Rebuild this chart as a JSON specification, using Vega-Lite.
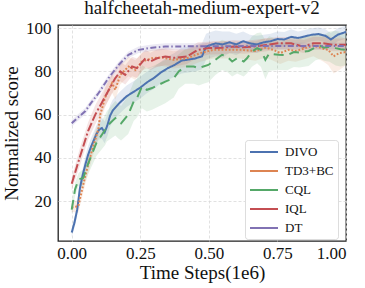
{
"$schema":"https://vega.github.io/schema/vega-lite/v6.json",
"width":288,"height":216,
"autosize":{"type":"none"},
"padding":{"left":58,"top":25,"right":19,"bottom":47},
"background":"white",
"title":{"text":"halfcheetah-medium-expert-v2","font":"Liberation Serif","fontSize":19,"fontWeight":"normal","color":"#111","offset":1},
"config":{
 "font":"Liberation Serif",
 "view":{"stroke":"#222","strokeWidth":1.3},
 "axis":{"grid":true,"gridColor":"#d9d9d9","gridDash":[3,2],"gridWidth":0.8,"domain":false,"ticks":false,"labelFont":"Liberation Serif","labelFontSize":17,"labelColor":"#111","titleFont":"Liberation Serif","titleFontSize":19,"titleFontWeight":"normal","titleColor":"#111"},
 "legend":{"labelFont":"Liberation Serif","labelFontSize":13,"labelColor":"#111"}
},
"data":{"values":[
{"s":"DIVO","x":0,"y":5.4,"lo":3.4,"hi":7.4},
{"s":"DIVO","x":0.01,"y":10,"lo":7.5,"hi":12.5},
{"s":"DIVO","x":0.02,"y":16,"lo":13,"hi":19},
{"s":"DIVO","x":0.03,"y":26,"lo":23,"hi":29},
{"s":"DIVO","x":0.04,"y":32,"lo":29,"hi":35},
{"s":"DIVO","x":0.05,"y":37,"lo":33,"hi":41},
{"s":"DIVO","x":0.06,"y":41.5,"lo":37.5,"hi":45.5},
{"s":"DIVO","x":0.07,"y":45,"lo":41,"hi":49},
{"s":"DIVO","x":0.08,"y":48,"lo":44,"hi":52},
{"s":"DIVO","x":0.09,"y":51,"lo":47,"hi":55},
{"s":"DIVO","x":0.1,"y":53,"lo":48.5,"hi":57.5},
{"s":"DIVO","x":0.11,"y":53.8,"lo":48.8,"hi":58.8},
{"s":"DIVO","x":0.12,"y":51.8,"lo":46.8,"hi":56.8},
{"s":"DIVO","x":0.13,"y":55,"lo":50,"hi":60},
{"s":"DIVO","x":0.14,"y":59.5,"lo":54.5,"hi":64.5},
{"s":"DIVO","x":0.15,"y":62,"lo":57,"hi":67},
{"s":"DIVO","x":0.175,"y":65.5,"lo":60.5,"hi":70.5},
{"s":"DIVO","x":0.2,"y":68.5,"lo":63.5,"hi":73.5},
{"s":"DIVO","x":0.225,"y":70.5,"lo":65.5,"hi":75.5},
{"s":"DIVO","x":0.25,"y":72.5,"lo":67.5,"hi":77.5},
{"s":"DIVO","x":0.275,"y":75,"lo":70,"hi":80},
{"s":"DIVO","x":0.3,"y":77,"lo":72,"hi":82},
{"s":"DIVO","x":0.325,"y":79.5,"lo":74.5,"hi":84.5},
{"s":"DIVO","x":0.35,"y":81.5,"lo":76,"hi":87},
{"s":"DIVO","x":0.375,"y":83,"lo":77.5,"hi":88.5},
{"s":"DIVO","x":0.4,"y":85,"lo":79,"hi":91},
{"s":"DIVO","x":0.425,"y":85.5,"lo":79.5,"hi":91.5},
{"s":"DIVO","x":0.45,"y":86,"lo":80,"hi":92},
{"s":"DIVO","x":0.475,"y":87,"lo":81,"hi":93},
{"s":"DIVO","x":0.49,"y":91.5,"lo":85.5,"hi":97.5},
{"s":"DIVO","x":0.5,"y":92,"lo":86,"hi":98},
{"s":"DIVO","x":0.525,"y":93,"lo":87,"hi":99},
{"s":"DIVO","x":0.55,"y":92.5,"lo":86.5,"hi":98.5},
{"s":"DIVO","x":0.575,"y":93.5,"lo":88.5,"hi":98.5},
{"s":"DIVO","x":0.6,"y":92.5,"lo":87.5,"hi":97.5},
{"s":"DIVO","x":0.625,"y":94,"lo":89.5,"hi":98.5},
{"s":"DIVO","x":0.65,"y":93,"lo":89,"hi":97},
{"s":"DIVO","x":0.675,"y":92.5,"lo":88.5,"hi":96.5},
{"s":"DIVO","x":0.7,"y":93.5,"lo":90,"hi":97},
{"s":"DIVO","x":0.725,"y":94,"lo":90.5,"hi":97.5},
{"s":"DIVO","x":0.75,"y":95,"lo":91.5,"hi":98.5},
{"s":"DIVO","x":0.775,"y":94.8,"lo":91.3,"hi":98.3},
{"s":"DIVO","x":0.8,"y":96,"lo":92.5,"hi":99.5},
{"s":"DIVO","x":0.825,"y":95.5,"lo":92.5,"hi":98.5},
{"s":"DIVO","x":0.85,"y":96.2,"lo":93.2,"hi":99.2},
{"s":"DIVO","x":0.875,"y":97,"lo":94,"hi":100},
{"s":"DIVO","x":0.9,"y":97.3,"lo":94.3,"hi":100.3},
{"s":"DIVO","x":0.925,"y":96.5,"lo":93.5,"hi":99.5},
{"s":"DIVO","x":0.945,"y":94.8,"lo":91.8,"hi":97.8},
{"s":"DIVO","x":0.97,"y":97,"lo":94,"hi":100},
{"s":"DIVO","x":1.0,"y":98.3,"lo":95.3,"hi":101.3},

{"s":"TD3+BC","x":0,"y":17,"lo":15,"hi":19},
{"s":"TD3+BC","x":0.024,"y":17.6,"lo":14.6,"hi":20.6},
{"s":"TD3+BC","x":0.049,"y":31.5,"lo":27.5,"hi":35.5},
{"s":"TD3+BC","x":0.078,"y":45.3,"lo":41.3,"hi":49.3},
{"s":"TD3+BC","x":0.097,"y":53,"lo":49,"hi":57},
{"s":"TD3+BC","x":0.104,"y":60,"lo":56,"hi":64},
{"s":"TD3+BC","x":0.122,"y":68,"lo":63.5,"hi":72.5},
{"s":"TD3+BC","x":0.147,"y":74.6,"lo":70.1,"hi":79.1},
{"s":"TD3+BC","x":0.159,"y":71.5,"lo":67,"hi":76},
{"s":"TD3+BC","x":0.177,"y":78.4,"lo":73.9,"hi":82.9},
{"s":"TD3+BC","x":0.207,"y":82.3,"lo":77.8,"hi":86.8},
{"s":"TD3+BC","x":0.232,"y":80.7,"lo":76.2,"hi":85.2},
{"s":"TD3+BC","x":0.256,"y":84.6,"lo":80.6,"hi":88.6},
{"s":"TD3+BC","x":0.293,"y":86.1,"lo":82.1,"hi":90.1},
{"s":"TD3+BC","x":0.329,"y":86.5,"lo":82.5,"hi":90.5},
{"s":"TD3+BC","x":0.37,"y":85.4,"lo":81.4,"hi":89.4},
{"s":"TD3+BC","x":0.42,"y":86.1,"lo":82.1,"hi":90.1},
{"s":"TD3+BC","x":0.469,"y":88.5,"lo":84.5,"hi":92.5},
{"s":"TD3+BC","x":0.516,"y":90,"lo":86,"hi":94},
{"s":"TD3+BC","x":0.567,"y":90,"lo":86,"hi":94},
{"s":"TD3+BC","x":0.615,"y":90,"lo":86,"hi":94},
{"s":"TD3+BC","x":0.67,"y":89.5,"lo":85,"hi":94},
{"s":"TD3+BC","x":0.706,"y":91,"lo":86.5,"hi":95.5},
{"s":"TD3+BC","x":0.735,"y":90,"lo":85,"hi":95},
{"s":"TD3+BC","x":0.76,"y":88.5,"lo":83.5,"hi":93.5},
{"s":"TD3+BC","x":0.79,"y":90,"lo":85,"hi":95},
{"s":"TD3+BC","x":0.816,"y":89.5,"lo":84.5,"hi":94.5},
{"s":"TD3+BC","x":0.845,"y":90.5,"lo":85.5,"hi":95.5},
{"s":"TD3+BC","x":0.881,"y":92,"lo":87,"hi":97},
{"s":"TD3+BC","x":0.918,"y":90.5,"lo":84.5,"hi":96.5},
{"s":"TD3+BC","x":0.935,"y":90,"lo":83,"hi":97},
{"s":"TD3+BC","x":0.955,"y":87,"lo":79,"hi":95},
{"s":"TD3+BC","x":0.975,"y":88.5,"lo":80.5,"hi":96.5},
{"s":"TD3+BC","x":1.0,"y":89,"lo":83,"hi":95},

{"s":"CQL","x":0,"y":16,"lo":14,"hi":18},
{"s":"CQL","x":0.012,"y":25.3,"lo":22.3,"hi":28.3},
{"s":"CQL","x":0.025,"y":30,"lo":27,"hi":33},
{"s":"CQL","x":0.042,"y":30.7,"lo":26.7,"hi":34.7},
{"s":"CQL","x":0.061,"y":37.7,"lo":32.7,"hi":42.7},
{"s":"CQL","x":0.09,"y":46.9,"lo":40.9,"hi":52.9},
{"s":"CQL","x":0.122,"y":53,"lo":46,"hi":60},
{"s":"CQL","x":0.128,"y":54.6,"lo":47.6,"hi":61.6},
{"s":"CQL","x":0.159,"y":58.4,"lo":50.4,"hi":66.4},
{"s":"CQL","x":0.17,"y":56.9,"lo":48.9,"hi":64.9},
{"s":"CQL","x":0.18,"y":56,"lo":48,"hi":64},
{"s":"CQL","x":0.206,"y":60,"lo":51,"hi":69},
{"s":"CQL","x":0.226,"y":66.1,"lo":57.1,"hi":75.1},
{"s":"CQL","x":0.238,"y":67.7,"lo":58.7,"hi":76.7},
{"s":"CQL","x":0.256,"y":73,"lo":63,"hi":83},
{"s":"CQL","x":0.274,"y":71.5,"lo":61.5,"hi":81.5},
{"s":"CQL","x":0.293,"y":72.3,"lo":62.3,"hi":82.3},
{"s":"CQL","x":0.317,"y":73.8,"lo":63.8,"hi":83.8},
{"s":"CQL","x":0.341,"y":75.3,"lo":65.3,"hi":85.3},
{"s":"CQL","x":0.372,"y":76.9,"lo":67.9,"hi":85.9},
{"s":"CQL","x":0.39,"y":80,"lo":72,"hi":88},
{"s":"CQL","x":0.414,"y":82.3,"lo":74.3,"hi":90.3},
{"s":"CQL","x":0.445,"y":82.3,"lo":74.3,"hi":90.3},
{"s":"CQL","x":0.463,"y":81.5,"lo":73.5,"hi":89.5},
{"s":"CQL","x":0.48,"y":82.3,"lo":74.3,"hi":90.3},
{"s":"CQL","x":0.498,"y":83,"lo":75,"hi":91},
{"s":"CQL","x":0.524,"y":85.4,"lo":78.4,"hi":92.4},
{"s":"CQL","x":0.548,"y":87.7,"lo":80.7,"hi":94.7},
{"s":"CQL","x":0.566,"y":86.9,"lo":79.9,"hi":93.9},
{"s":"CQL","x":0.585,"y":84.6,"lo":77.6,"hi":91.6},
{"s":"CQL","x":0.603,"y":86.1,"lo":79.1,"hi":93.1},
{"s":"CQL","x":0.627,"y":84.6,"lo":77.6,"hi":91.6},
{"s":"CQL","x":0.639,"y":86.1,"lo":79.1,"hi":93.1},
{"s":"CQL","x":0.657,"y":89.2,"lo":82.2,"hi":96.2},
{"s":"CQL","x":0.676,"y":90.8,"lo":83.8,"hi":97.8},
{"s":"CQL","x":0.69,"y":90,"lo":82,"hi":98},
{"s":"CQL","x":0.706,"y":85.4,"lo":76.4,"hi":94.4},
{"s":"CQL","x":0.72,"y":88.3,"lo":80.3,"hi":96.3},
{"s":"CQL","x":0.754,"y":87.7,"lo":80.7,"hi":94.7},
{"s":"CQL","x":0.786,"y":87.5,"lo":80.5,"hi":94.5},
{"s":"CQL","x":0.81,"y":89,"lo":82,"hi":96},
{"s":"CQL","x":0.83,"y":88.8,"lo":81.8,"hi":95.8},
{"s":"CQL","x":0.864,"y":89.5,"lo":82.5,"hi":96.5},
{"s":"CQL","x":0.889,"y":91.2,"lo":85.2,"hi":97.2},
{"s":"CQL","x":0.907,"y":91.8,"lo":85.8,"hi":97.8},
{"s":"CQL","x":0.92,"y":91,"lo":85,"hi":97},
{"s":"CQL","x":0.94,"y":91.5,"lo":84.5,"hi":98.5},
{"s":"CQL","x":0.962,"y":90.8,"lo":82.8,"hi":98.8},
{"s":"CQL","x":0.98,"y":90.3,"lo":82.3,"hi":98.3},
{"s":"CQL","x":1.0,"y":90,"lo":83,"hi":97},

{"s":"IQL","x":0,"y":28,"lo":25,"hi":31},
{"s":"IQL","x":0.03,"y":40.5,"lo":36.5,"hi":44.5},
{"s":"IQL","x":0.06,"y":52.5,"lo":48.5,"hi":56.5},
{"s":"IQL","x":0.086,"y":60,"lo":55.5,"hi":64.5},
{"s":"IQL","x":0.122,"y":68.4,"lo":63.9,"hi":72.9},
{"s":"IQL","x":0.159,"y":76.9,"lo":72.4,"hi":81.4},
{"s":"IQL","x":0.177,"y":80,"lo":75.5,"hi":84.5},
{"s":"IQL","x":0.195,"y":78.4,"lo":73.9,"hi":82.9},
{"s":"IQL","x":0.22,"y":82.3,"lo":77.8,"hi":86.8},
{"s":"IQL","x":0.238,"y":81.5,"lo":77,"hi":86},
{"s":"IQL","x":0.269,"y":86.1,"lo":82.1,"hi":90.1},
{"s":"IQL","x":0.286,"y":84.6,"lo":80.6,"hi":88.6},
{"s":"IQL","x":0.311,"y":86.1,"lo":82.1,"hi":90.1},
{"s":"IQL","x":0.341,"y":86.9,"lo":82.9,"hi":90.9},
{"s":"IQL","x":0.375,"y":86.3,"lo":82.3,"hi":90.3},
{"s":"IQL","x":0.42,"y":86.9,"lo":83.4,"hi":90.4},
{"s":"IQL","x":0.46,"y":90,"lo":86.5,"hi":93.5},
{"s":"IQL","x":0.5,"y":90.8,"lo":87.8,"hi":93.8},
{"s":"IQL","x":0.55,"y":91,"lo":88,"hi":94},
{"s":"IQL","x":0.59,"y":91.5,"lo":88.5,"hi":94.5},
{"s":"IQL","x":0.625,"y":91.2,"lo":88.2,"hi":94.2},
{"s":"IQL","x":0.66,"y":91.5,"lo":88.5,"hi":94.5},
{"s":"IQL","x":0.71,"y":92.3,"lo":89.3,"hi":95.3},
{"s":"IQL","x":0.75,"y":93,"lo":90,"hi":96},
{"s":"IQL","x":0.8,"y":93,"lo":90,"hi":96},
{"s":"IQL","x":0.845,"y":91.5,"lo":88.5,"hi":94.5},
{"s":"IQL","x":0.88,"y":93,"lo":90,"hi":96},
{"s":"IQL","x":0.918,"y":93,"lo":90,"hi":96},
{"s":"IQL","x":0.955,"y":92.3,"lo":89.3,"hi":95.3},
{"s":"IQL","x":1.0,"y":92.3,"lo":89.3,"hi":95.3},

{"s":"DT","x":0,"y":56,"lo":54.5,"hi":57.5},
{"s":"DT","x":0.025,"y":58.9,"lo":57.4,"hi":60.4},
{"s":"DT","x":0.05,"y":61.7,"lo":60.2,"hi":63.2},
{"s":"DT","x":0.068,"y":65,"lo":63.5,"hi":66.5},
{"s":"DT","x":0.098,"y":70,"lo":68.5,"hi":71.5},
{"s":"DT","x":0.134,"y":76.9,"lo":75.4,"hi":78.4},
{"s":"DT","x":0.171,"y":83,"lo":81.5,"hi":84.5},
{"s":"DT","x":0.207,"y":87.7,"lo":86.2,"hi":89.2},
{"s":"DT","x":0.244,"y":90,"lo":88.5,"hi":91.5},
{"s":"DT","x":0.293,"y":91,"lo":89.5,"hi":92.5},
{"s":"DT","x":0.341,"y":91.5,"lo":90,"hi":93},
{"s":"DT","x":0.4,"y":91.6,"lo":90.1,"hi":93.1},
{"s":"DT","x":0.5,"y":91.7,"lo":90.2,"hi":93.2},
{"s":"DT","x":0.6,"y":91.7,"lo":90.2,"hi":93.2},
{"s":"DT","x":0.7,"y":91.8,"lo":90.3,"hi":93.3},
{"s":"DT","x":0.8,"y":91.8,"lo":90.3,"hi":93.3},
{"s":"DT","x":0.9,"y":91.8,"lo":90.3,"hi":93.3},
{"s":"DT","x":1.0,"y":91.8,"lo":90.3,"hi":93.3}
]},
"encoding":{
 "x":{"field":"x","type":"quantitative","scale":{"domain":[-0.05,1.0],"nice":false,"zero":false},
  "axis":{"values":[0,0.25,0.5,0.75,1],"format":".2f","title":"Time Steps(1e6)","labelPadding":4,"titlePadding":2}}
},
"layer":[
 {"mark":{"type":"area","opacity":0.15},
  "encoding":{
   "y":{"field":"lo","type":"quantitative","scale":{"domain":[1.5,101.5],"nice":false,"zero":false},
     "axis":{"values":[20,40,60,80,100],"title":"Normalized score","labelPadding":7,"titlePadding":4}},
   "y2":{"field":"hi"},
   "color":{"field":"s","type":"nominal","scale":{"domain":["DIVO","TD3+BC","CQL","IQL","DT"],"range":["#4c72b0","#dd8452","#55a868","#c44e52","#8172b3"]},"legend":null}
  }},
 {"mark":{"type":"line","strokeWidth":2},
  "encoding":{
   "y":{"field":"y","type":"quantitative","scale":{"domain":[1.5,101.5],"nice":false,"zero":false},
     "axis":{"values":[20,40,60,80,100],"title":"Normalized score","labelPadding":7,"titlePadding":4}},
   "color":{"field":"s","type":"nominal","scale":{"domain":["DIVO","TD3+BC","CQL","IQL","DT"],"range":["#4c72b0","#dd8452","#55a868","#c44e52","#8172b3"]},
     "legend":{"title":null,"orient":"none","legendX":187,"legendY":115,"symbolType":"M-1,0H3","symbolSize":196,"symbolStrokeWidth":2,"labelOffset":20,"padding":4,"strokeColor":"#dddddd","fillColor":"white","cornerRadius":3,"rowPadding":4}},
   "strokeDash":{"field":"s","type":"nominal","scale":{"domain":["DIVO","TD3+BC","CQL","IQL","DT"],"range":[[1,0],[1.8,1.8],[10,6],[9,2.5,9,2.5,2,2.5],[6,2.5,1.5,2.5]]},
     "legend":{"title":null,"orient":"none","legendX":187,"legendY":115,"symbolType":"M-1,0H3","symbolSize":196,"symbolStrokeWidth":2,"labelOffset":20,"padding":4,"strokeColor":"#dddddd","fillColor":"white","cornerRadius":3,"rowPadding":4}}
  }}
],
"resolve":{"scale":{"color":"independent"}}
}
